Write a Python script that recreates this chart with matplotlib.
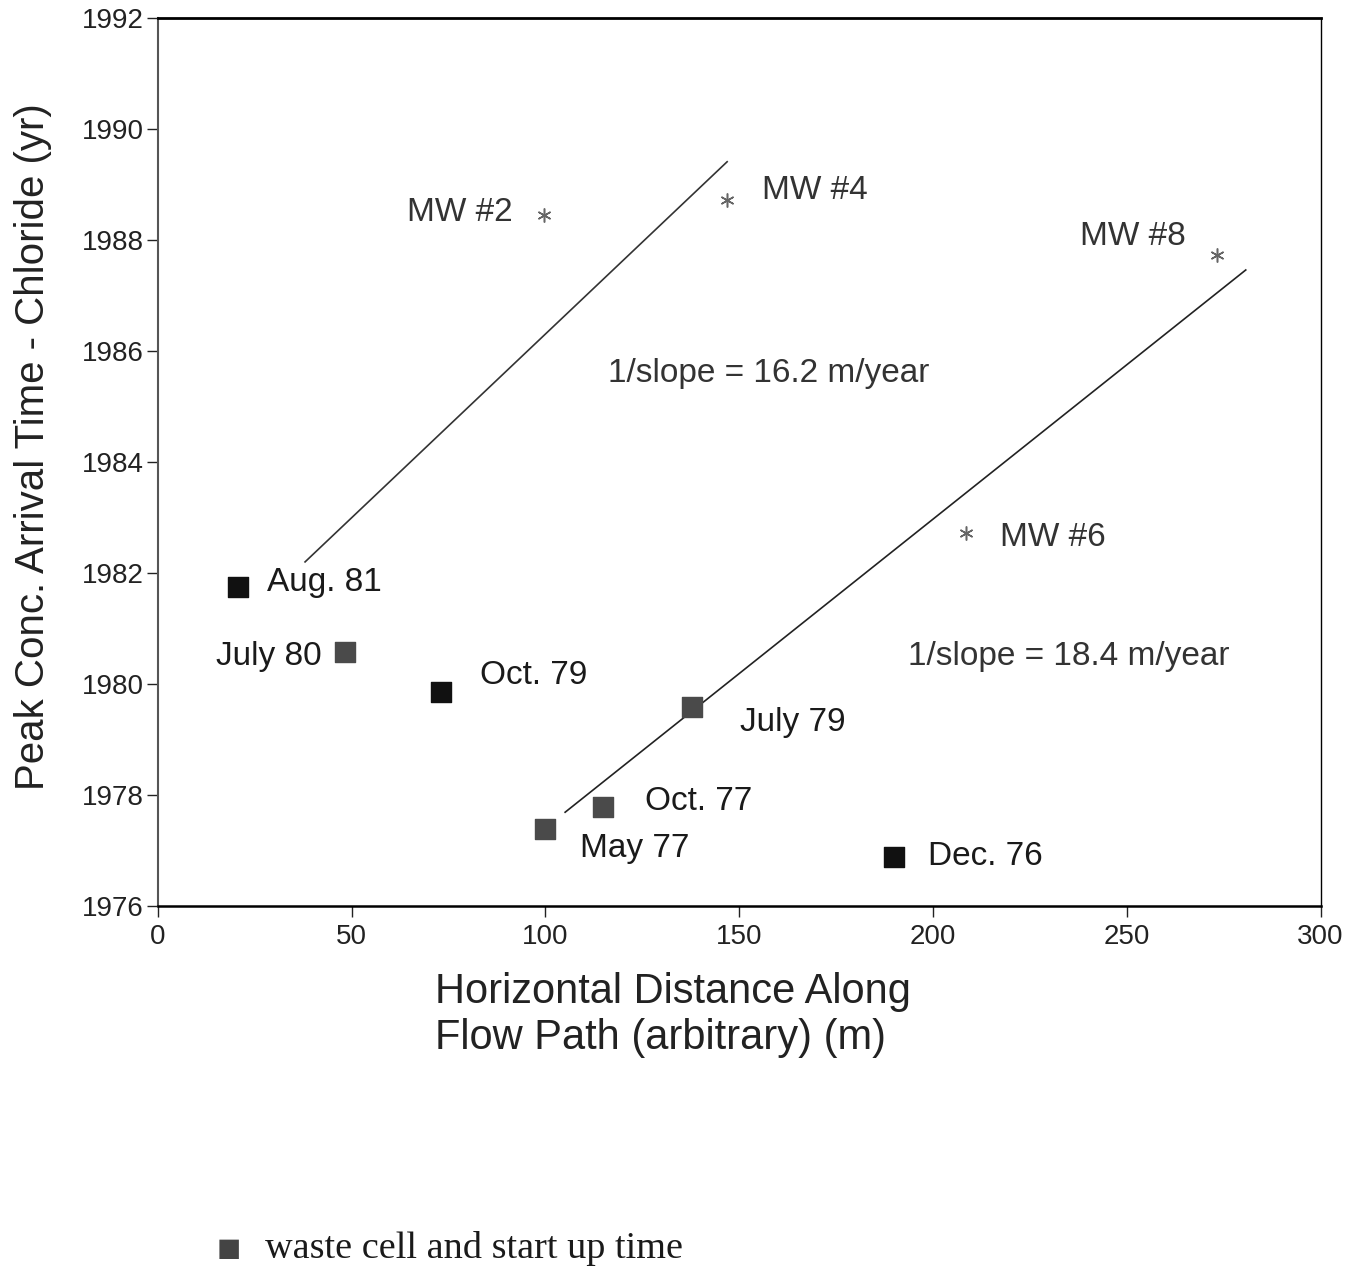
import matplotlib.pyplot as plt

# sampling dates (squares)
sq_labels = ["Aug. 81", "July 80", "Oct. 79", "July 79", "Oct. 77", "May 77", "Dec. 76"]
sq_x = [20.7, 48.3, 73.0, 137.9, 114.9, 99.9, 190.0]
sq_y = [1981.75, 1980.58, 1979.86, 1979.59, 1977.78, 1977.39, 1976.88]
sq_colors = ["#111111", "#4a4a4a", "#111111", "#4a4a4a", "#4a4a4a", "#4a4a4a", "#111111"]

# monitoring wells (asterisks)
mw_labels = ["MW #2", "MW #4", "MW #8", "MW #6"]
mw_x = [99.7, 146.9, 273.2, 208.6]
mw_y = [1988.45, 1988.72, 1987.73, 1982.72]

# fitted lines
line1_x = [38.0, 146.9]
line1_y = [1982.2, 1989.41]
line2_x = [105.1, 280.7]
line2_y = [1977.69, 1987.46]

# label offsets in pixels (dx, dy, ha)
sq_offsets = [(29, 4, "left"), (-23, -5, "right"), (39, 16, "left"), (48, -16, "left"),
              (42, 6, "left"), (35, -20, "left"), (34, 1, "left")]
mw_offsets = [(-32, 3, "right"), (35, 10, "left"), (-31, 18, "right"), (34, -4, "left")]


def main():
    plt.rcParams["font.family"] = ["Liberation Sans", "DejaVu Sans"]
    fig = plt.figure(figsize=(13.6, 12.67), dpi=100)
    ax = fig.add_axes([0.116, 0.2849, 0.855, 0.7009])

    ax.plot(line1_x, line1_y, color="#333333", lw=1.2)
    ax.plot(line2_x, line2_y, color="#222222", lw=1.2)

    ax.scatter(sq_x, sq_y, marker="s", s=200, c=sq_colors, zorder=3)
    ax.plot(mw_x, mw_y, ls="none", marker=(6, 2, 0), ms=10, color="#666666",
            markeredgewidth=1.1)

    for lab, x, y, (dx, dy, ha) in zip(sq_labels, sq_x, sq_y, sq_offsets):
        ax.annotate(lab, (x, y), xytext=(dx, dy), textcoords="offset pixels",
                    ha=ha, va="center", fontsize=24, color="#1a1a1a")
    for lab, x, y, (dx, dy, ha) in zip(mw_labels, mw_x, mw_y, mw_offsets):
        ax.annotate(lab, (x, y), xytext=(dx, dy), textcoords="offset pixels",
                    ha=ha, va="center", fontsize=24, color="#333333")

    ax.text(116.2, 1985.59, "1/slope = 16.2 m/year", fontsize=24,
            va="center", color="#333333")
    ax.text(193.6, 1980.49, "1/slope = 18.4 m/year", fontsize=24,
            va="center", color="#333333")

    ax.set_xlim(0, 300)
    ax.set_ylim(1976, 1992)
    ax.set_xticks(range(0, 301, 50))
    ax.set_yticks(range(1976, 1993, 2))
    ax.tick_params(labelsize=20, length=8, width=1, pad=2, colors="#222222")
    ax.tick_params(axis="x", pad=5)

    ax.spines["top"].set_linewidth(2)
    ax.spines["bottom"].set_linewidth(1.8)
    ax.spines["left"].set_linewidth(1.5)
    ax.spines["left"].set_color("#555555")
    ax.spines["right"].set_linewidth(1)

    ax.set_ylabel("Peak Conc. Arrival Time - Chloride (yr)", fontsize=29,
                  color="#222222")
    ax.yaxis.set_label_coords(-0.091, 0.517)
    ax.set_xlabel("Horizontal Distance Along\nFlow Path (arbitrary) (m)",
                  fontsize=30, color="#222222", ha="left", linespacing=1.2)
    ax.xaxis.set_label_coords(0.238, -0.074)
    ax.xaxis.label.set_va("top")

    # legend note at bottom
    fig.text(0.168, 0.0135, "\u25a0", fontsize=29, color="#444444",
             va="center", ha="center")
    fig.text(0.195, 0.0145, "waste cell and start up time", fontsize=27.5,
             family="Liberation Serif", va="center", color="#1a1a1a")

    fig.savefig("out.png", dpi=100)
    plt.close(fig)


if __name__ == "__main__":
    main()
